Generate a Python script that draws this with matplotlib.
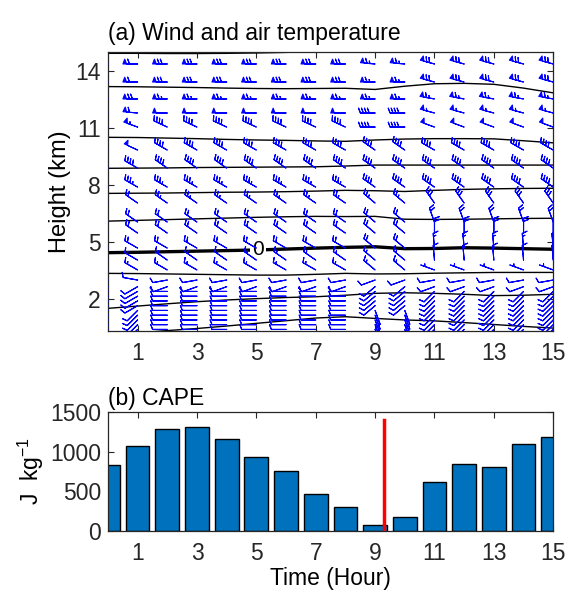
import numpy as np
import matplotlib
matplotlib.use('Agg')
import matplotlib.pyplot as plt

plt.rcParams['font.family'] = ['Liberation Sans', 'DejaVu Sans']
plt.rcParams['mathtext.fontset'] = 'custom'
plt.rcParams['mathtext.rm'] = 'Liberation Sans'
plt.rcParams['mathtext.it'] = 'Liberation Sans'

hours = np.arange(16)
xticks = [1, 3, 5, 7, 9, 11, 13, 15]

# barb levels (km)
levels = [0.4, 0.65, 0.9, 1.15, 1.4, 1.65, 1.9, 2.15, 2.4, 2.65, 3.0, 3.53, 4.05,
          4.68, 5.47, 6.05, 7.05, 7.89, 8.89, 9.84, 11.05, 11.79, 12.53, 13.42, 14.37]

# wind direction (deg, from) and speed (kt) profiles for blocks of hours
dir_h0_1 = [225, 225, 225, 225, 225, 240, 240, 240, 240, 240, 280, 300, 300,
            300, 305, 305, 305, 300, 300, 295, 290, 275, 270, 270, 270]
spd_h0_1 = [10, 10, 10, 10, 10, 10, 10, 10, 10, 10, 10, 15, 15,
            20, 20, 20, 20, 35, 40, 50, 55, 60, 70, 60, 60]
dir_h2_8 = [270, 270, 270, 270, 270, 270, 270, 270, 270, 250, 260, 300, 305,
            300, 305, 305, 305, 300, 305, 300, 295, 270, 270, 270, 270]
spd_h2_8 = [10, 10, 10, 10, 10, 10, 10, 10, 10, 10, 10, 15, 15,
            20, 20, 20, 25, 35, 40, 40, 40, 50, 65, 70, 70]
dir_h9_10 = [160, 160, 160, 160, 160, 230, 230, 230, 230, 230, 250, 310, 310,
             310, 310, 310, 310, 305, 305, 305, 270, 270, 270, 270, 275]
spd_h9_10 = [10, 10, 10, 10, 10, 10, 10, 10, 10, 10, 10, 15, 15,
             20, 20, 20, 25, 40, 40, 40, 40, 40, 65, 65, 65]
dir_h11_15 = [225, 225, 225, 225, 225, 225, 225, 225, 225, 250, 260, 290, 355,
              355, 360, 340, 325, 305, 305, 300, 290, 285, 280, 285, 285]
spd_h11_15 = [10, 10, 10, 10, 10, 10, 10, 10, 10, 10, 10, 5, 10,
              15, 20, 20, 30, 40, 40, 40, 50, 55, 65, 70, 70]

# isotherm heights (km) at each hour, every 10 degC, warm to cold
iso_p20 = [0.1, 0.22, 0.34, 0.45, 0.58, 0.72, 0.86, 1.0, 1.07, 0.98, 0.9, 0.85, 0.76, 0.66, 0.56, 0.47]
iso_p10 = [1.51, 1.63, 1.75, 1.86, 1.95, 2.02, 2.08, 2.12, 2.2, 2.3, 2.33, 2.3, 2.25, 2.18, 2.2, 2.25]
iso_p5 = [3.35, 3.34, 3.32, 3.3, 3.28, 3.26, 3.26, 3.3, 3.35, 3.32, 3.33, 3.36, 3.38, 3.4, 3.4, 3.4]
iso_0 = [4.44, 4.46, 4.49, 4.52, 4.55, 4.58, 4.63, 4.68, 4.72, 4.75, 4.65, 4.66, 4.7, 4.68, 4.65, 4.62]
iso_m10 = [6.1, 6.14, 6.18, 6.22, 6.26, 6.3, 6.33, 6.35, 6.34, 6.35, 6.2, 6.19, 6.2, 6.22, 6.24, 6.25]
iso_m20 = [7.56, 7.57, 7.58, 7.6, 7.62, 7.63, 7.65, 7.68, 7.72, 7.7, 7.66, 7.72, 7.77, 7.8, 7.82, 7.83]
iso_m30 = [8.88, 8.89, 8.9, 8.92, 8.93, 8.94, 8.95, 8.96, 9.0, 9.05, 9.05, 9.05, 9.05, 9.05, 9.05, 9.05]
iso_m40 = [10.51, 10.5, 10.47, 10.44, 10.4, 10.37, 10.35, 10.32, 10.3, 10.37, 10.42, 10.44, 10.44, 10.43, 10.33, 10.22]
iso_m50 = [13.18, 13.17, 13.15, 13.13, 13.1, 13.08, 13.07, 13.08, 13.09, 13.03, 13.2, 13.33, 13.35, 13.3, 13.1, 12.85]
iso_m60 = [14.93, 14.93, 14.92, 14.92, 14.93, 14.95, 14.98, 15.05, 15.1, 15.1, 15.1, 15.1, 15.1, 15.1, 15.1, 15.1]

# CAPE (J/kg)
cape = [830, 1075, 1290, 1315, 1165, 935, 760, 465, 305, 70, 180, 615, 850, 805, 1100, 1180]
event_hour = 9.3
event_top = 1400

fs = 16.5

fig = plt.figure(figsize=(5.68, 5.91), dpi=100)
ax1 = fig.add_axes([0.190, 0.440, 0.784, 0.472])
ax2 = fig.add_axes([0.190, 0.1015, 0.784, 0.2015])

# wind barbs
u = np.zeros((len(levels), len(hours)))
v = np.zeros_like(u)
for j, h in enumerate(hours):
    if h <= 1:
        d, s = dir_h0_1, spd_h0_1
    elif h <= 8:
        d, s = dir_h2_8, spd_h2_8
    elif h <= 10:
        d, s = dir_h9_10, spd_h9_10
    else:
        d, s = dir_h11_15, spd_h11_15
    rad = np.deg2rad(d)
    u[:, j] = -np.array(s) * np.sin(rad)
    v[:, j] = -np.array(s) * np.cos(rad)
X, Y = np.meshgrid(hours, levels)
ax1.barbs(X, Y, u, v, length=4.6, color='blue', linewidth=0.8, zorder=3,
          sizes=dict(spacing=0.2, height=0.33, width=0.25))

# isotherms
for iso in [iso_p20, iso_p10, iso_p5, iso_m10, iso_m20, iso_m30, iso_m40, iso_m50, iso_m60]:
    ax1.plot(hours, iso, color='black', lw=1.0, zorder=2)
ax1.plot(hours, iso_0, color='black', lw=2.4, zorder=2)
ax1.text(5.05, np.interp(5.05, hours, iso_0), '0', fontsize=15, ha='center', va='center',
         bbox=dict(boxstyle='square,pad=0.1', fc='white', ec='none'), zorder=2.5)

ax1.set_xlim(0, 15)
ax1.set_ylim(0.32, 15.0)
ax1.set_xticks(xticks)
ax1.set_yticks([2, 5, 8, 11, 14])
ax1.set_ylabel('Height (km)', fontsize=17, labelpad=3)
ax1.set_title('(a) Wind and air temperature', loc='left', fontsize=fs, pad=9)

# CAPE bars
ax2.bar(hours, cape, width=0.8, color='#0072BD', edgecolor='black', linewidth=1.0, zorder=2)
ax2.plot([event_hour, event_hour], [0, event_top], color='red', lw=2.5, zorder=3)
ax2.set_xlim(0, 15)
ax2.set_ylim(0, 1500)
ax2.set_xticks(xticks)
ax2.set_yticks([0, 500, 1000, 1500])
ax2.set_xlabel('Time (Hour)', fontsize=fs, labelpad=1)
ax2.set_ylabel('J  kg$^{-1}$', fontsize=fs, labelpad=3)
ax2.set_title('(b) CAPE', loc='left', fontsize=fs, pad=5)

for ax in (ax1, ax2):
    ax.tick_params(direction='in', top=True, right=True, length=4, width=0.8,
                   color='#262626', labelsize=fs, labelcolor='#262626')
    ax.tick_params(axis='x', pad=8)
    ax.tick_params(axis='y', pad=5)
    for sp in ax.spines.values():
        sp.set_color('#262626')
        sp.set_linewidth(0.9)

fig.savefig('out.png', dpi=100)
